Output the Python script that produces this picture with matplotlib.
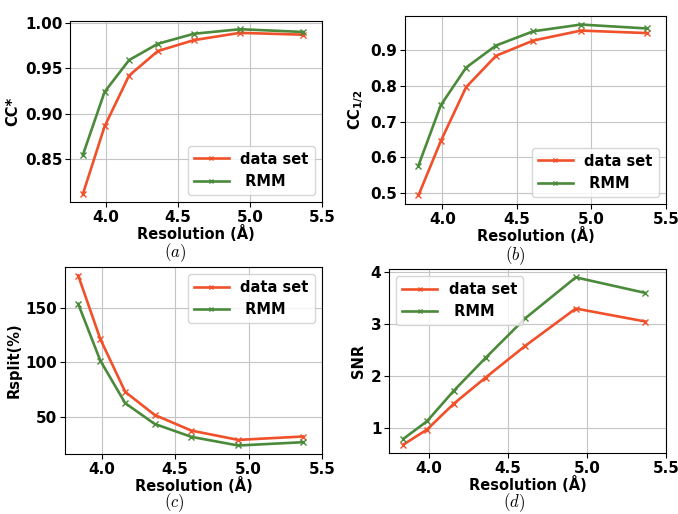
import matplotlib
matplotlib.use("Agg")
import matplotlib.pyplot as plt

# Resolution bins (Angstrom)
resolution = [3.84, 3.99, 4.16, 4.36, 4.61, 4.93, 5.37]

cc_star_data = [0.812, 0.886, 0.942, 0.969, 0.981, 0.989, 0.987]
cc_star_rmm = [0.855, 0.924, 0.959, 0.977, 0.988, 0.993, 0.990]

cc_half_data = [0.492, 0.645, 0.797, 0.885, 0.928, 0.956, 0.949]
cc_half_rmm = [0.576, 0.746, 0.852, 0.914, 0.954, 0.973, 0.962]

rsplit_data = [179.2, 121.4, 73.1, 52.1, 37.8, 29.3, 32.4]
rsplit_rmm = [153.3, 101.7, 62.8, 43.9, 32.1, 24.2, 27.2]

snr_data = [0.68, 0.97, 1.47, 1.97, 2.58, 3.30, 3.05]
snr_rmm = [0.79, 1.13, 1.72, 2.35, 3.11, 3.90, 3.60]

labels = ["data set", " RMM"]
ylabels = ["CC*", r"$\mathbf{CC_{1/2}}$", "Rsplit(%)", "SNR"]
captions = ["(a)", "(b)", "(c)", "(d)"]
legend_loc = ["lower right", "lower right", "upper right", "upper left"]

RED = "#f0502a"
GREEN = "#4b8a3a"

plt.rcParams["font.weight"] = "bold"
plt.rcParams["axes.labelweight"] = "bold"
plt.rcParams["font.size"] = 10.5
plt.rcParams["axes.labelsize"] = 10.5

W, H = 678, 514
fig = plt.figure(figsize=(W / 100, H / 100), dpi=100)

# axes boxes in pixels: left, top, right, bottom
boxes = [(70, 21, 322, 202), (405, 16, 666, 204),
         (65, 267, 322, 454), (389, 269, 666, 453)]
caption_pos = [(175, 253), (515, 256), (174, 503), (514, 503)]

series = [(cc_star_data, cc_star_rmm), (cc_half_data, cc_half_rmm),
          (rsplit_data, rsplit_rmm), (snr_data, snr_rmm)]

for i, (l, t, r, b) in enumerate(boxes):
    ax = fig.add_axes([l / W, 1 - b / H, (r - l) / W, (b - t) / H])
    ds, rm = series[i]
    ax.plot(resolution, ds, color=RED, lw=1.9, marker="x", ms=4,
            mew=1, label=labels[0])
    ax.plot(resolution, rm, color=GREEN, lw=1.9, marker="x", ms=4,
            mew=1, label=labels[1])
    ax.set_xlim(3.75, 5.5)
    ax.set_xticks([4.0, 4.5, 5.0, 5.5])
    ax.grid(True, color="#c4c4c4", lw=0.8)
    ax.set_axisbelow(True)
    ax.set_xlabel("Resolution (Å)", labelpad=0)
    ax.set_ylabel(ylabels[i], labelpad=3)
    ax.tick_params(labelsize=11, pad=2)
    for lab in ax.get_xticklabels() + ax.get_yticklabels():
        lab.set_fontweight("bold")
    ax.legend(loc=legend_loc[i], fontsize=10.5, handlelength=2.4,
              markerscale=0.6)
    cx, cy = caption_pos[i]
    fig.text(cx / W, 1 - cy / H, "$" + captions[i] + "$",
             math_fontfamily="cm", fontsize=12, ha="center", va="center")

fig.savefig("out.png", dpi=100)
